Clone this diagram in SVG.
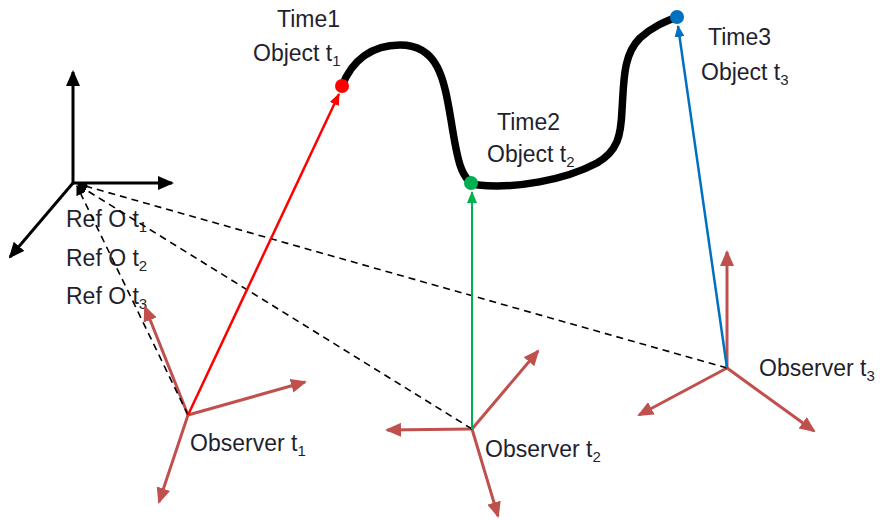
<svg xmlns="http://www.w3.org/2000/svg" width="883" height="520" viewBox="0 0 883 520">
<style>
text{font-family:"Liberation Sans",Arial,sans-serif;font-size:23px;fill:#1f1f2e}
.sub{font-size:15px}
.ax{stroke:#000;stroke-width:3;fill:none}
.obs{stroke:#c0504d;stroke-width:3;fill:none}
.dash{stroke:#000;stroke-width:1.6;stroke-dasharray:7 5;fill:none}
</style>
<defs>
<marker id="ab" markerUnits="userSpaceOnUse" markerWidth="16" markerHeight="14" refX="14" refY="7" orient="auto"><path d="M0,0 L16,7 L0,14 z" fill="#000"/></marker>
<marker id="ar" markerUnits="userSpaceOnUse" markerWidth="16" markerHeight="14" refX="14" refY="7" orient="auto"><path d="M0,0 L16,7 L0,14 z" fill="#c0504d"/></marker>
<marker id="ad" markerUnits="userSpaceOnUse" markerWidth="10" markerHeight="10" refX="9" refY="5" orient="auto"><path d="M0,0 L10,5 L0,10 z" fill="#000"/></marker>
<marker id="arr" markerUnits="userSpaceOnUse" markerWidth="12" markerHeight="10" refX="11" refY="5" orient="auto"><path d="M0,0 L12,5 L0,10 z" fill="#ff0000"/></marker>
<marker id="ag" markerUnits="userSpaceOnUse" markerWidth="12" markerHeight="10" refX="11" refY="5" orient="auto"><path d="M0,0 L12,5 L0,10 z" fill="#00b050"/></marker>
<marker id="abl" markerUnits="userSpaceOnUse" markerWidth="12" markerHeight="10" refX="11" refY="5" orient="auto"><path d="M0,0 L12,5 L0,10 z" fill="#0070c0"/></marker>
</defs>

<g id="reference-frame">
<line class="ax" x1="73" y1="183" x2="73" y2="72" marker-end="url(#ab)"/>
<line class="ax" x1="73" y1="183" x2="172" y2="183" marker-end="url(#ab)"/>
<line class="ax" x1="73" y1="183" x2="10" y2="257" marker-end="url(#ab)"/>
<text x="66" y="227">Ref O t<tspan class="sub" dy="5">1</tspan></text>
<text x="66" y="266">Ref O t<tspan class="sub" dy="5">2</tspan></text>
<text x="66" y="304">Ref O t<tspan class="sub" dy="5">3</tspan></text>
</g>

<g id="trajectory">
<path d="M342,86 C352,60 372,45 400,45 C438,45 444,78 451,120 C457,158 461,183 478,185 C515,189 565,180 597,163 C618,151 621,135 622,110 C624,80 623,55 640,38 C652,27 664,22 677,17" stroke="#000" stroke-width="7.5" fill="none" stroke-linecap="round"/>
</g>

<g id="object-t1">
<circle cx="342" cy="86" r="7" fill="#ff0000"/>
<text x="277" y="27">Time1</text>
<text x="253" y="61">Object t<tspan class="sub" dy="5">1</tspan></text>
</g>
<g id="object-t2">
<circle cx="471" cy="183" r="7" fill="#00b050"/>
<text x="497" y="130">Time2</text>
<text x="487" y="162">Object t<tspan class="sub" dy="5">2</tspan></text>
</g>
<g id="object-t3">
<circle cx="677" cy="17" r="7" fill="#0070c0"/>
<text x="708" y="45">Time3</text>
<text x="701" y="80">Object t<tspan class="sub" dy="5">3</tspan></text>
</g>

<g id="observer-t1">
<line class="obs" x1="188" y1="415" x2="145" y2="307" marker-end="url(#ar)"/>
<line class="obs" x1="188" y1="415" x2="305" y2="382" marker-end="url(#ar)"/>
<line class="obs" x1="188" y1="415" x2="159" y2="502" marker-end="url(#ar)"/>
<text x="190" y="451">Observer t<tspan class="sub" dy="5">1</tspan></text>
</g>
<g id="observer-t2">
<line class="obs" x1="472" y1="429" x2="387" y2="430" marker-end="url(#ar)"/>
<line class="obs" x1="472" y1="429" x2="538" y2="351" marker-end="url(#ar)"/>
<line class="obs" x1="472" y1="429" x2="498" y2="516" marker-end="url(#ar)"/>
<text x="485" y="457">Observer t<tspan class="sub" dy="5">2</tspan></text>
</g>
<g id="observer-t3">
<line class="obs" x1="727" y1="368" x2="727" y2="252" marker-end="url(#ar)"/>
<line class="obs" x1="727" y1="368" x2="639" y2="415" marker-end="url(#ar)"/>
<line class="obs" x1="727" y1="368" x2="814" y2="431" marker-end="url(#ar)"/>
<text x="759" y="376">Observer t<tspan class="sub" dy="5">3</tspan></text>
</g>

<g id="connectors">
<line class="dash" x1="188" y1="415" x2="77" y2="186" marker-end="url(#ad)"/>
<line class="dash" x1="472" y1="429" x2="78" y2="185" marker-end="url(#ad)"/>
<line class="dash" x1="727" y1="368" x2="78" y2="184" marker-end="url(#ad)"/>
<line x1="188" y1="415" x2="339" y2="94" stroke="#ff0000" stroke-width="2.5" marker-end="url(#arr)"/>
<line x1="472" y1="429" x2="472" y2="192" stroke="#00b050" stroke-width="2" marker-end="url(#ag)"/>
<line x1="727" y1="368" x2="678" y2="26" stroke="#0070c0" stroke-width="2.5" marker-end="url(#abl)"/>
</g>
</svg>
